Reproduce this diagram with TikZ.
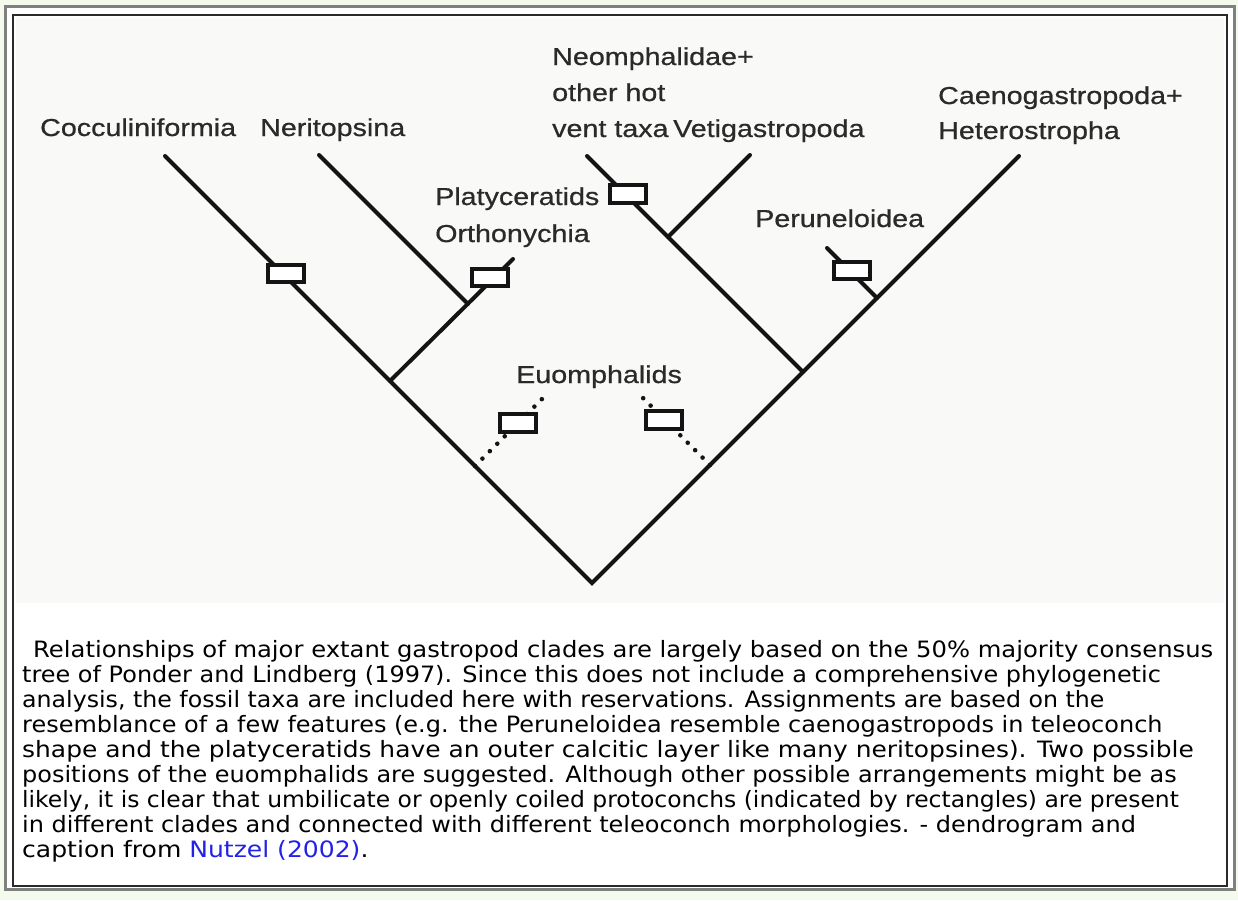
\documentclass[tikz,border=0pt]{standalone}
\usepackage{graphicx}
\usepackage{fontspec}
\setmainfont{Liberation Sans}
\newfontfamily\taxonfont[FakeStretch=1.17,FakeBold=0.7]{Liberation Sans}
\newfontfamily\captionfont[FakeStretch=1.065]{DejaVu Sans}
\definecolor{pagegreen}{HTML}{F4FAEC}
\definecolor{framegray}{HTML}{808080}
\definecolor{framedark}{HTML}{2A2A2A}
\definecolor{figbg}{HTML}{F9FAF8}
\definecolor{labelgray}{HTML}{2A2A2A}
\definecolor{linkblue}{HTML}{2222E6}

\begin{document}
\begin{tikzpicture}[x=1pt,y=-1pt,
  branch/.style={line width=4pt, line cap=round, draw=black!92},
  dotbranch/.style={line width=4.6pt, line cap=round, dash pattern=on 0pt off 10.5pt, draw=black!92},
  proto/.style={draw=black!92, line width=4pt, fill=white, minimum width=36pt, minimum height=17.5pt, inner sep=0pt},
  taxon/.style={anchor=base west, inner sep=0pt, text=labelgray, font=\taxonfont\fontsize{24.5}{29}\selectfont},
  capline/.style={anchor=base west, inner sep=0pt, text=black, font=\captionfont\fontsize{22.5}{25}\selectfont}]

% page, table frame and figure area
\fill[pagegreen] (0,0) rectangle (1238,900);
\useasboundingbox (0,0) rectangle (1238,900);
\draw[framegray, line width=2.5pt, fill=white] (5.5,6.5) rectangle (1234.5,889.5);
\draw[framedark, line width=2pt] (13,15) rectangle (1227,886);
\fill[figbg] (16,18) rectangle (1224,603);

% tree nodes
\coordinate (root) at (592,583);
\coordinate (tipCoc) at (165,156);
\coordinate (tipCae) at (1019,156);
\coordinate (nLeft) at (390,381);
\coordinate (nNer) at (468,304);
\coordinate (tipNer) at (319,155);
\coordinate (tipPla) at (513,259);
\coordinate (nRight) at (803,372);
\coordinate (tipNeo) at (587,156);
\coordinate (nVet) at (668,237);
\coordinate (tipVet) at (750,155);
\coordinate (nPer) at (877,298);
\coordinate (tipPer) at (827,248);
\coordinate (euLbase) at (475,466);
\coordinate (euLtip) at (546,395);
\coordinate (euRbase) at (710,465);
\coordinate (euRtip) at (639,394);

% branches
\draw[branch] (tipCoc) -- (root) -- (tipCae);
\draw[branch] (nLeft) -- (tipPla);
\draw[branch] (tipNer) -- (nNer);
\draw[branch] (nRight) -- (tipNeo);
\draw[branch] (nVet) -- (tipVet);
\draw[branch] (nPer) -- (tipPer);
\draw[dotbranch] (euLbase) -- (euLtip);
\draw[dotbranch] (euRbase) -- (euRtip);

% protoconch rectangles
\node[proto] (pCoc) at (286,273.5) {};
\node[proto] (pPla) at (490,277.5) {};
\node[proto] (pNeo) at (628,194) {};
\node[proto] (pPer) at (852,270.5) {};
\node[proto] (pEuL) at (517.5,423) {};
\node[proto] (pEuR) at (664,420) {};

% taxon labels
\node[taxon] (lCoc) at (40,136) {Cocculiniformia};
\node[taxon] (lNer) at (260,136) {Neritopsina};
\node[taxon] (lNeoA) at (552,65) {Neomphalidae+};
\node[taxon] (lNeoB) at (552,101) {other hot};
\node[taxon] (lNeoC) at (552,137) {vent taxa};
\node[taxon] (lVet) at (673,137) {Vetigastropoda};
\node[taxon] (lCaeA) at (938,104) {Caenogastropoda+};
\node[taxon] (lCaeB) at (938,139) {Heterostropha};
\node[taxon] (lPlaA) at (435,205) {Platyceratids};
\node[taxon] (lPlaB) at (435,242) {Orthonychia};
\node[taxon] (lPer) at (755,227) {Peruneloidea};
\node[taxon] (lEuo) at (516,383) {Euomphalids};

% caption, one node per printed line
\node[capline] (c1) at (33,657) {\scalebox{1.012}[1]{Relationships of major extant gastropod clades are largely based on the 50\% majority consensus}};
\node[capline] (c2) at (22,682) {tree of Ponder and Lindberg (1997). Since this does not include a comprehensive phylogenetic};
\node[capline] (c3) at (22,707) {\scalebox{0.988}[1]{analysis, the fossil taxa are included here with reservations. Assignments are based on the}};
\node[capline] (c4) at (22,732) {resemblance of a few features (e.g. the Peruneloidea resemble caenogastropods in teleoconch};
\node[capline] (c5) at (22,757) {\scalebox{1.04}[1]{shape and the platyceratids have an outer calcitic layer like many neritopsines). Two possible}};
\node[capline] (c6) at (22,782) {positions of the euomphalids are suggested. Although other possible arrangements might be as};
\node[capline] (c7) at (22,807) {\scalebox{0.978}[1]{likely, it is clear that umbilicate or openly coiled protoconchs (indicated by rectangles) are present}};
\node[capline] (c8) at (22,832) {in different clades and connected with different teleoconch morphologies. - dendrogram and};
\node[capline] (c9) at (22,857) {\scalebox{1.045}[1]{caption from \textcolor{linkblue}{Nutzel (2002)}.}};
\end{tikzpicture}
\end{document}
